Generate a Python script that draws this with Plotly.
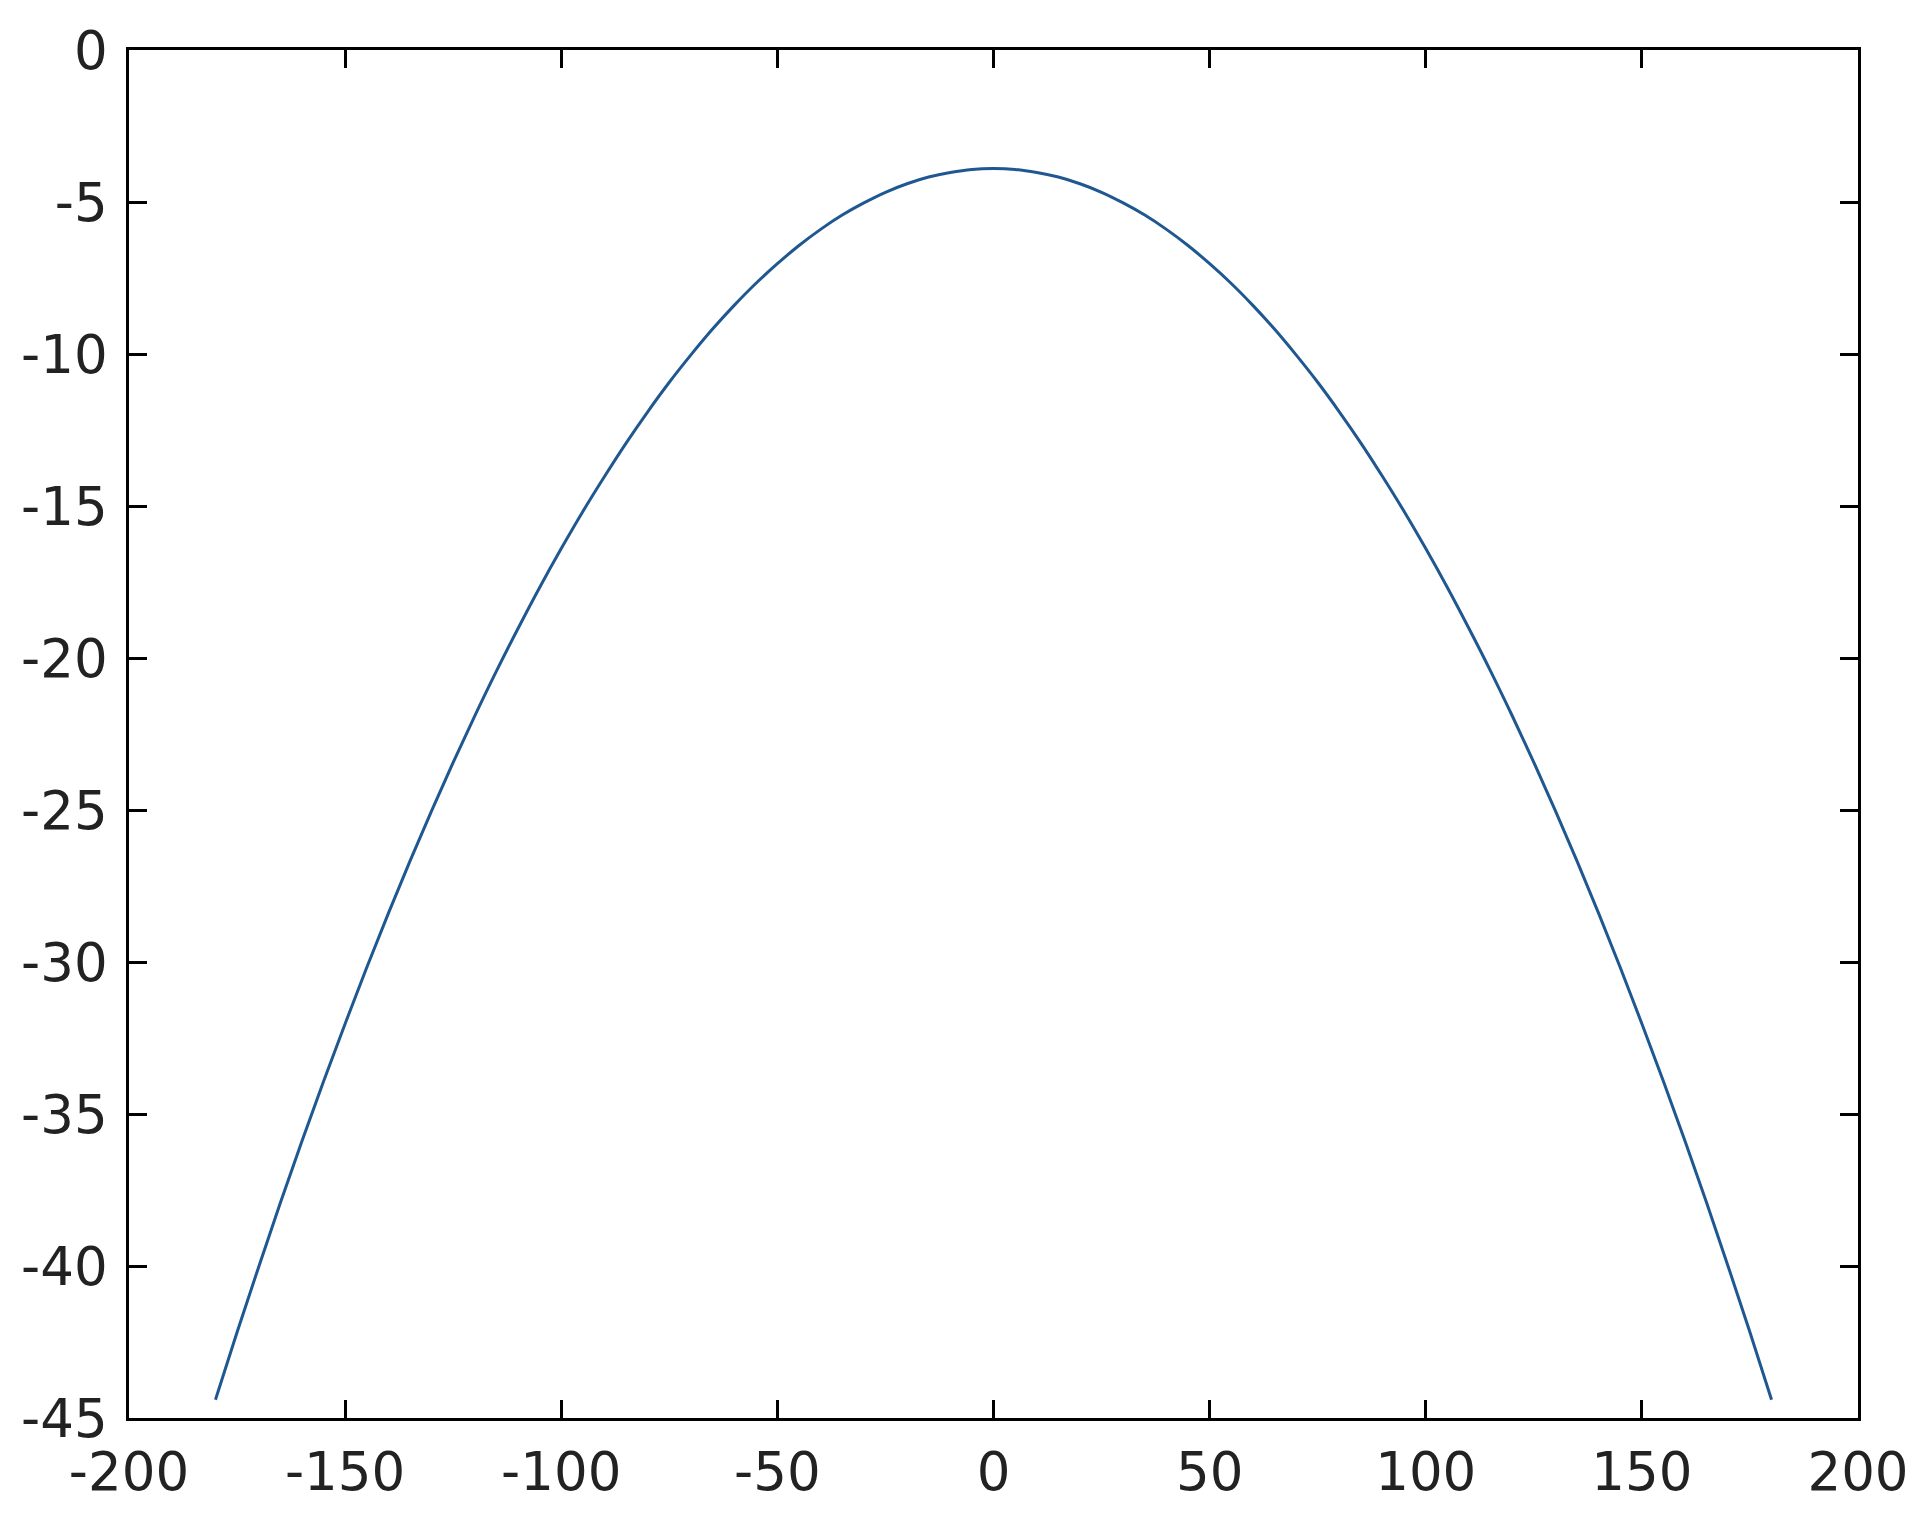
import plotly.graph_objects as go

# curve, every 5 degrees
angle = [-180, -175, -170, -165, -160, -155, -150, -145, -140, -135, -130, -125, -120, -115, -110, -105,
         -100, -95, -90, -85, -80, -75, -70, -65, -60, -55, -50, -45, -40, -35, -30, -25, -20, -15, -10, -5,
         0, 5, 10, 15, 20, 25, 30, 35, 40, 45, 50, 55, 60, 65, 70, 75, 80, 85, 90, 95,
         100, 105, 110, 115, 120, 125, 130, 135, 140, 145, 150, 155, 160, 165, 170, 175, 180]
level = [-44.40, -42.18, -40.03, -37.93, -35.90, -33.93, -32.03, -30.18, -28.40, -26.68, -25.03, -23.43,
         -21.90, -20.43, -19.03, -17.68, -16.40, -15.18, -14.03, -12.93, -11.90, -10.93, -10.03, -9.18,
         -8.40, -7.68, -7.03, -6.43, -5.90, -5.43, -5.03, -4.68, -4.40, -4.18, -4.03, -3.93,
         -3.90,
         -3.93, -4.03, -4.18, -4.40, -4.68, -5.03, -5.43, -5.90, -6.43, -7.03, -7.68, -8.40,
         -9.18, -10.03, -10.93, -11.90, -12.93, -14.03, -15.18, -16.40, -17.68, -19.03, -20.43, -21.90,
         -23.43, -25.03, -26.68, -28.40, -30.18, -32.03, -33.93, -35.90, -37.93, -40.03, -42.18, -44.40]

x_ticks = [-200, -150, -100, -50, 0, 50, 100, 150, 200]
y_ticks = [0, -5, -10, -15, -20, -25, -30, -35, -40, -45]

fig = go.Figure()
fig.add_trace(go.Scatter(x=angle, y=level, mode="lines", line=dict(color="#1f5890", width=3, shape="spline"),
                         showlegend=False))

axis_style = dict(
    showline=True, linecolor="black", linewidth=2.5, mirror="ticks",
    ticks="inside", ticklen=18, tickwidth=2.5, tickcolor="black",
    showgrid=False, zeroline=False, automargin=False,
    tickfont=dict(family="DejaVu Sans", size=53, color="#222222"),
)

fig.update_layout(
    width=1920, height=1524,
    paper_bgcolor="white", plot_bgcolor="white",
    margin=dict(l=121, r=70, t=42, b=114),
    xaxis=dict(range=[-200, 200], tickvals=x_ticks, ticktext=[str(v) for v in x_ticks],
               ticklabelstandoff=6, **axis_style),
    yaxis=dict(range=[-45, 0], tickvals=y_ticks, ticktext=[str(v) for v in y_ticks],
               ticklabelstandoff=8, **axis_style),
)

fig.write_html("out.html")
